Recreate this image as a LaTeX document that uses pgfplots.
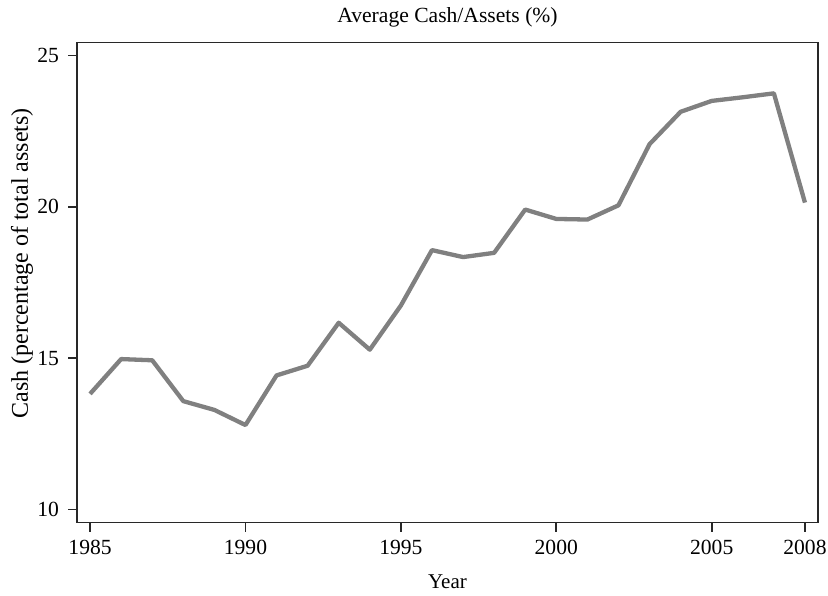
\documentclass[border=0pt]{standalone}
\usepackage{pgfplots}
\pgfplotsset{compat=1.18}
\usepackage{fontspec}
\setmainfont{Liberation Serif}

\pgfplotstableread{
year cash
1985 13.82
1986 14.97
1987 14.93
1988 13.58
1989 13.29
1990 12.79
1991 14.43
1992 14.75
1993 16.17
1994 15.28
1995 16.74
1996 18.57
1997 18.34
1998 18.48
1999 19.91
2000 19.60
2001 19.58
2002 20.05
2003 22.07
2004 23.14
2005 23.50
2006 23.62
2007 23.75
2008 20.14
}\cashdata

\definecolor{linegray}{RGB}{128,128,128}
\definecolor{framegray}{RGB}{40,40,40}

\begin{document}
\begin{tikzpicture}
\begin{axis}[
    scale only axis,
    width=370.5pt, height=240pt,
    xmin=1984.58, xmax=2008.42,
    ymin=9.57, ymax=25.43,
    xtick={1985,1990,1995,2000,2005,2008},
    ytick={10,15,20,25},
    x tick label style={/pgf/number format/1000 sep={}},
    /pgf/number format/assume math mode=true,
    tick label style={font=\fontsize{10.8}{12}\selectfont},
    label style={font=\fontsize{10.5}{12}\selectfont},
    tick align=outside,
    major tick length=4.5pt,
    xtick pos=bottom, ytick pos=left,
    axis line style={framegray, line width=0.9pt},
    every tick/.style={framegray, line width=0.8pt},
    xticklabel style={yshift=-1pt, inner xsep=0pt},
    yticklabel style={xshift=-1pt},
    title={Average Cash/Assets (\%)},
    title style={font=\fontsize{10.8}{12}\selectfont, at={(axis description cs:0.5,1)}, anchor=center, yshift=6.5pt},
    xlabel={Year},
    xlabel style={at={(axis description cs:0.5,0)}, anchor=center, yshift=-29.5pt},
    ylabel={Cash (percentage of total assets)},
    ylabel style={font=\fontsize{12}{14}\selectfont, at={(axis description cs:-0.0742,0.54)}, anchor=center, inner ysep=0pt},
]
\addplot[linegray, line width=2.15pt, line join=round] table[x=year, y=cash] {\cashdata};
\end{axis}
\path (current axis.south west) ++(-38.5pt,-33.5pt) coordinate (bbsw);
\path (current axis.north east) ++(5pt,21.25pt) coordinate (bbne);
\path (bbsw) rectangle (bbne);
\end{tikzpicture}
\end{document}
